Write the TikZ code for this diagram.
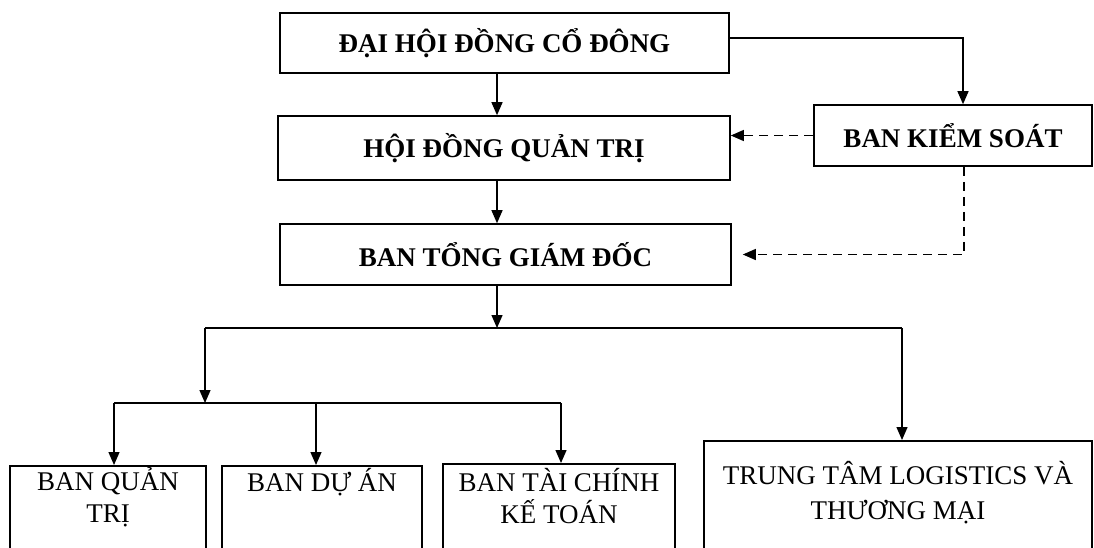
\documentclass[tikz,border=0pt]{standalone}
\usepackage{fontspec}
\setmainfont{Liberation Serif}
\usetikzlibrary{arrows.meta,positioning}

\begin{document}
\begin{tikzpicture}[x=1pt,y=-1pt,
  unit/.style={draw,line width=1.6pt,inner sep=0pt,font=\fontsize{27}{33}\selectfont\bfseries},
  dept/.style={draw,line width=1.6pt,inner sep=0pt,anchor=north,minimum height=130pt},
  depttext/.style={align=center,inner sep=0pt,anchor=base,font=\fontsize{27}{32}\selectfont},
  link/.style={line width=1.3pt,-{Triangle[length=13pt,width=11pt]}},
  bus/.style={line width=1.3pt},
  watch/.style={link,dash pattern=on 9pt off 6pt}]
\useasboundingbox (0,0) rectangle (1094,547);
\clip (0,0) rectangle (1094,547);
\fill[white] (0,0) rectangle (1094,547);

% upper levels
\node[unit,minimum width=449pt,minimum height=60pt] (dhdcd) at (504.5,43) {ĐẠI HỘI ĐỒNG CỔ ĐÔNG};
\node[unit,minimum width=452pt,minimum height=64pt] (hdqt) at (504,148) {HỘI ĐỒNG QUẢN TRỊ};
\node[unit,minimum width=451pt,minimum height=61pt] (btgd) at (505.5,254.5) {BAN TỔNG GIÁM ĐỐC};
\node[unit,minimum width=278pt,minimum height=61pt] (bks) at (953,135.5) {BAN KIỂM SOÁT};

% departments (base = last line)
\node[dept,minimum width=196pt] (bqt) at (108,465) {};
\node[dept,minimum width=200pt] (bda) at (322,465) {};
\node[dept,minimum width=232pt] (btckt) at (559,463) {};
\node[dept,minimum width=388pt] (tt) at (898,440) {};
\node[depttext] (bqt-t) at ([yshift=-57pt]bqt.north) {BAN QUẢN\\TRỊ};
\node[depttext] (bda-t) at ([yshift=-26pt]bda.north) {BAN DỰ ÁN};
\node[depttext] (btckt-t) at ([yshift=-60pt]btckt.north) {BAN TÀI CHÍNH\\KẾ TOÁN};
\node[depttext,font=\fontsize{27}{35}\selectfont] (tt-t) at ([yshift=-79pt]tt.north) {TRUNG TÂM LOGISTICS VÀ\\THƯƠNG MẠI};

% connectors
\coordinate (spine) at (497,0);
\coordinate (busl) at (205,328);
\coordinate (busr) at (902,328);
\coordinate (subl) at (114,403);
\coordinate (subm) at (316,403);
\coordinate (subr) at (561,403);

\draw[link] (dhdcd.south -| spine) -- (hdqt.north -| spine);
\draw[link] (hdqt.south -| spine) -- (btgd.north -| spine);
\draw[link] (btgd.south -| spine) -- (spine |- busl);
\draw[bus] (busl) -- (busr);
\draw[link] (busl) -- (busl |- subl);
\draw[bus] (subl) -- (subr);
\draw[link] (subl) -- (subl |- bqt.north);
\draw[link] (subm) -- (subm |- bda.north);
\draw[link] (subr) -- (subr |- btckt.north);
\draw[link] (busr) -- (busr |- tt.north);

\draw[link] ([yshift=5pt]dhdcd.east) -| ([xshift=10pt]bks.north);
\draw[watch] (bks.west) -- (bks.west -| hdqt.east);
\draw[watch] ([xshift=11pt]bks.south) |- ([xshift=11pt]btgd.east);
\end{tikzpicture}
\end{document}
